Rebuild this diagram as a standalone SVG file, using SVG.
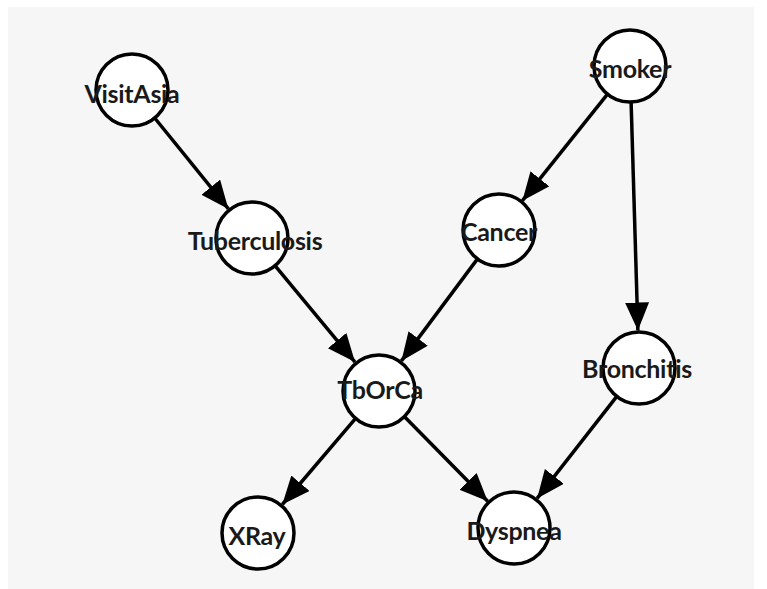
<svg xmlns="http://www.w3.org/2000/svg" width="767" height="589" viewBox="0 0 767 589">
<style>
.node circle{fill:#fff;stroke:#000;stroke-width:3.5}
.node text{font-family:Lato,"Liberation Sans",sans-serif;font-size:25px;font-weight:700;fill:#1a1a1a;text-anchor:middle;dominant-baseline:central;letter-spacing:-0.3px}
.edge{stroke:#000;stroke-width:3.5;fill:none;marker-end:url(#arr)}
</style>
<defs>
<marker id="arr" markerUnits="userSpaceOnUse" markerWidth="30" markerHeight="26" refX="28" refY="12" orient="auto">
<path d="M0,0 L28,12 L0,24 z" fill="#000"/>
</marker>
</defs>
<rect x="0" y="0" width="767" height="589" fill="#fff"/>
<rect x="8" y="7" width="746" height="582" fill="#f6f6f6"/>
<g id="connectors">
<line class="edge" x1="154.7" y1="118" x2="228.4" y2="208.9"/>
<line class="edge" x1="607.5" y1="94.1" x2="522.4" y2="200.7"/>
<line class="edge" x1="631.1" y1="102" x2="637.9" y2="330.5"/>
<line class="edge" x1="275" y1="265.7" x2="355" y2="362.1"/>
<line class="edge" x1="477.5" y1="258.9" x2="401.4" y2="360.9"/>
<line class="edge" x1="355.6" y1="418.4" x2="282.3" y2="504.5"/>
<line class="edge" x1="404.3" y1="416.6" x2="487.7" y2="501.3"/>
<line class="edge" x1="616.8" y1="396.4" x2="537.1" y2="498.4"/>
</g>
<g id="VisitAsia" class="node"><circle cx="132" cy="90" r="36"/><text x="132" y="93">VisitAsia</text></g>
<g id="Smoker" class="node"><circle cx="630" cy="66" r="36"/><text x="630" y="68">Smoker</text></g>
<g id="Tuberculosis" class="node"><circle cx="252" cy="238" r="36"/><text x="255" y="240">Tuberculosis</text></g>
<g id="Cancer" class="node"><circle cx="499" cy="230" r="36"/><text x="499" y="231">Cancer</text></g>
<g id="TbOrCa" class="node"><circle cx="379" cy="391" r="36"/><text x="380" y="389">TbOrCa</text></g>
<g id="Bronchitis" class="node"><circle cx="639" cy="368" r="36"/><text x="637" y="368">Bronchitis</text></g>
<g id="XRay" class="node"><circle cx="258" cy="533" r="36"/><text x="257" y="535">XRay</text></g>
<g id="Dyspnea" class="node"><circle cx="514" cy="528" r="36"/><text x="514" y="530">Dyspnea</text></g>
</svg>
